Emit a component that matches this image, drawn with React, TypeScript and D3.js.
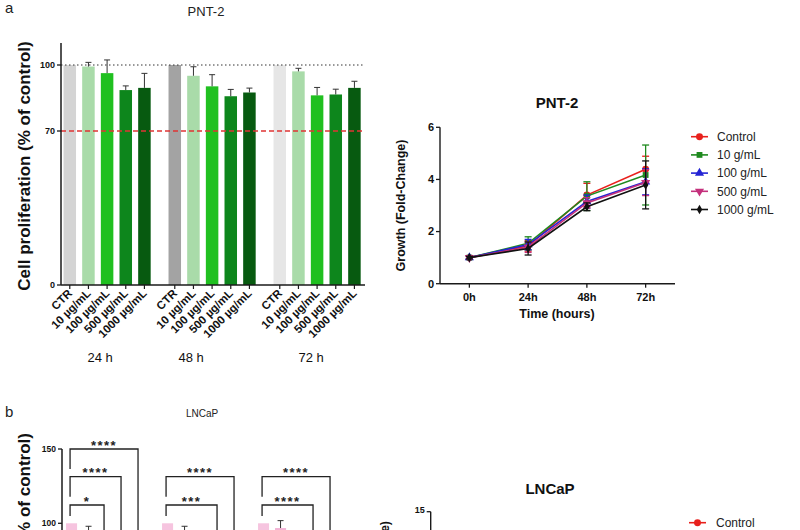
import React from 'react';
import * as d3 from 'd3';

const FONT = '"Liberation Sans", Arial, Helvetica, sans-serif';

// ---------- Panel a: PNT-2 bar chart ----------
const timeGroups = ['24 h', '48 h', '72 h'];
const conditions = ['CTR', '10 µg/mL', '100 µg/mL', '500 µg/mL', '1000 µg/mL'];
const pnt2Means = [
  [100, 99.3, 96.3, 88.6, 89.6],
  [100, 95.1, 90.3, 85.8, 87.5],
  [100, 97.1, 86.2, 86.6, 89.6],
];
const pnt2Errs = [
  [0, 1.9, 6.0, 1.9, 6.6],
  [0, 4.1, 5.3, 3.1, 2.0],
  [0, 1.4, 3.6, 2.4, 3.0],
];
const pnt2YTicks = [0, 70, 100];

// ---------- Panel a: PNT-2 growth curves ----------
const timePoints = ['0h', '24h', '48h', '72h'];
const seriesNames = ['Control', '10 g/mL', '100 g/mL', '500 g/mL', '1000 g/mL'];
const growthMeans = [
  [1.0, 1.45, 3.4, 4.39],
  [1.0, 1.55, 3.36, 4.17],
  [1.0, 1.5, 3.15, 3.91],
  [1.0, 1.4, 3.1, 3.88],
  [1.0, 1.35, 2.95, 3.79],
];
const growthErrs = [
  [0.06, 0.2, 0.45, 0.5],
  [0.05, 0.25, 0.55, 1.15],
  [0.05, 0.2, 0.25, 0.5],
  [0.05, 0.2, 0.2, 0.5],
  [0.05, 0.25, 0.15, 0.92],
];
const growthYTicks = [0, 2, 4, 6];

// ---------- Panel b: LNCaP bar chart ----------
const lncapMeans = [
  [100, 95.5, 84, 62, 55],
  [100, 95, 88, 72, 64],
  [100, 96.8, 88, 70, 60],
];
const lncapErrs = [
  [0, 2.5, 3, 3, 3],
  [0, 3, 3, 3, 3],
  [0, 5, 3, 3, 3],
];
const lncapYTicks = [0, 50, 100, 150];
const lncapBrackets = [
  { group: 0, target: 2, height: 112.3, label: '*' },
  { group: 0, target: 3, height: 131.4, label: '****' },
  { group: 0, target: 4, height: 150, label: '****' },
  { group: 1, target: 3, height: 112.3, label: '***' },
  { group: 1, target: 4, height: 131.4, label: '****' },
  { group: 2, target: 3, height: 112.3, label: '****' },
  { group: 2, target: 4, height: 131.4, label: '****' },
];
const lncapGrowthYTicks = [0, 5, 10, 15];

// ---------- styles ----------
const ctrColors = ['#d4d4d4', '#a3a3a3', '#e6e6e6'];
const greenColors = ['#a9dba9', '#20c020', '#0d861c', '#075a10'];
const pinkColors = ['#f6c4df', '#f2b2d4', '#e070b0', '#c03486', '#8a1a5c'];
const seriesColors = ['#e8201c', '#1f8a1f', '#2424d4', '#c4307c', '#111111'];
const seriesSymbols = [d3.symbolCircle, d3.symbolSquare, d3.symbolTriangle, d3.symbolTriangle, d3.symbolDiamond];
const seriesSymbolSize = [38, 34, 36, 36, 26];
const seriesRotate = [0, 0, 0, 180, 0];

const AX = '#1a1a1a';
const VIEW_H = 530;

function Marker({ i, x, y }: { i: number; x: number; y: number }) {
  const p = d3.symbol().type(seriesSymbols[i]).size(seriesSymbolSize[i])() || '';
  return (
    <path
      d={p}
      transform={`translate(${x},${y}) rotate(${seriesRotate[i]})`}
      fill={seriesColors[i]}
      stroke="none"
    />
  );
}

export default function App() {
  // ---- panel a bars ----
  const ax0 = d3.scaleBand<string>().domain(timeGroups).range([54.6, 369.6]).paddingInner(0.17).paddingOuter(0.085);
  const ax1 = d3.scaleBand<string>().domain(conditions).range([0, ax0.bandwidth()]).paddingInner(0.33);
  const ay = d3.scaleLinear().domain([0, 110]).range([285, 43]);
  const aAxisX = 61;
  const aRight = 365;
  const groupLabelDx = [-7, -21, -6];

  // ---- panel a lines ----
  const lx = d3.scalePoint<string>().domain(timePoints).range([440, 675]).padding(0.5);
  const ly = d3.scaleLinear().domain([0, 6]).range([283.7, 127.3]);
  const line = d3
    .line<number>()
    .x((_, j) => lx(timePoints[j]) as number)
    .y((v) => ly(v));

  // ---- panel b bars ----
  const bx0 = d3.scaleBand<string>().domain(timeGroups).range([62.2, 340.9]).paddingInner(0.177).paddingOuter(0.04);
  const bx1 = d3.scaleBand<string>().domain(conditions).range([0, bx0.bandwidth()]).paddingInner(0.35);
  const by = d3.scaleLinear().domain([0, 150]).range([671.9, 449]);
  const bAxisX = 62;

  // ---- panel b lines ----
  const lby = d3.scaleLinear().domain([0, 15]).range([668, 511.7]);
  const lbAxisX = 430.7;

  const legendRowsA = seriesNames.map((n, i) => ({ n, i, y: 136.7 + i * 18.2 }));
  // only the rows that fall inside the (cropped) figure
  const legendRowsB = seriesNames
    .map((n, i) => ({ n, i, y: 522.7 + i * 18.2 }))
    .filter((r) => r.y < VIEW_H);

  return (
    <svg
      width={800}
      height={530}
      viewBox="0 0 800 530"
      style={{ position: 'absolute', left: 0, top: 0, background: '#fff', fontFamily: FONT }}
    >
      <rect x={0} y={0} width={800} height={530} fill="#fff" />
      {/* ======== Panel a ======== */}
      <text x={5} y={13} fontSize={15} fill="#222">a</text>
      <text x={206} y={15.7} fontSize={13} fill="#222" textAnchor="middle">PNT-2</text>

      {/* bars */}
      {timeGroups.map((g, gi) =>
        conditions.map((c, ci) => {
          const v = pnt2Means[gi][ci];
          const x = (ax0(g) as number) + (ax1(c) as number);
          const w = ax1.bandwidth();
          const fill = ci === 0 ? ctrColors[gi] : greenColors[ci - 1];
          return <rect key={`ab${gi}${ci}`} x={x} y={ay(v)} width={w} height={ay(0) - ay(v)} fill={fill} />;
        })
      )}
      {/* error bars */}
      {timeGroups.map((g, gi) =>
        conditions.map((c, ci) => {
          const e = pnt2Errs[gi][ci];
          if (!e) return null;
          const v = pnt2Means[gi][ci];
          const cx = (ax0(g) as number) + (ax1(c) as number) + ax1.bandwidth() / 2;
          return (
            <g key={`ae${gi}${ci}`} stroke="#333" strokeWidth={1}>
              <line x1={cx} x2={cx} y1={ay(v)} y2={ay(v + e)} />
              <line x1={cx - 3} x2={cx + 3} y1={ay(v + e)} y2={ay(v + e)} />
            </g>
          );
        })
      )}
      {/* reference lines */}
      <line x1={aAxisX} x2={aRight} y1={ay(100)} y2={ay(100)} stroke="#333" strokeWidth={1} strokeDasharray="1.5,2.5" />
      <line x1={aAxisX} x2={aRight} y1={ay(70)} y2={ay(70)} stroke="#e03434" strokeWidth={1.3} strokeDasharray="5,3" />
      {/* axes */}
      <line x1={aAxisX} x2={aAxisX} y1={ay(110)} y2={ay(0)} stroke={AX} strokeWidth={1.5} />
      <line x1={aAxisX} x2={aRight} y1={ay(0)} y2={ay(0)} stroke={AX} strokeWidth={1.5} />
      {pnt2YTicks.map((t) => (
        <g key={`ayt${t}`}>
          <line x1={aAxisX - 4} x2={aAxisX} y1={ay(t)} y2={ay(t)} stroke={AX} strokeWidth={1.3} />
          <text x={aAxisX - 6} y={ay(t)} dy="0.35em" fontSize={9} fontWeight="bold" textAnchor="end" fill="#111">
            {t}
          </text>
        </g>
      ))}
      {timeGroups.map((g, gi) =>
        conditions.map((c, ci) => {
          const cx = (ax0(g) as number) + (ax1(c) as number) + ax1.bandwidth() / 2;
          return (
            <g key={`axt${gi}${ci}`}>
              <line x1={cx} x2={cx} y1={ay(0)} y2={ay(0) + 4} stroke={AX} strokeWidth={1.2} />
              <text
                transform={`translate(${cx + 3},${ay(0) + 9}) rotate(-45)`}
                fontSize={11.5}
                fontWeight="bold"
                textAnchor="end"
                fill="#111"
              >
                {c}
              </text>
            </g>
          );
        })
      )}
      {timeGroups.map((g, gi) => (
        <text
          key={`agl${gi}`}
          x={(ax0(g) as number) + ax0.bandwidth() / 2 + groupLabelDx[gi]}
          y={361.5}
          fontSize={13}
          textAnchor="middle"
          fill="#111"
        >
          {g}
        </text>
      ))}
      <text
        transform={`translate(29.5,166) rotate(-90)`}
        fontSize={17}
        fontWeight="bold"
        textAnchor="middle"
        fill="#111"
      >
        Cell proliferation (% of control)
      </text>

      {/* ---- growth chart PNT-2 ---- */}
      <text x={557} y={108.4} fontSize={15} fontWeight="bold" textAnchor="middle" fill="#111">PNT-2</text>
      {growthMeans.map((s, i) => (
        <g key={`gs${i}`}>
          <path d={line(s) || ''} fill="none" stroke={seriesColors[i]} strokeWidth={1.6} />
          {s.map((v, j) => {
            const cx = lx(timePoints[j]) as number;
            const e = growthErrs[i][j];
            return (
              <g key={`ge${i}${j}`} stroke={seriesColors[i]} strokeWidth={1.3}>
                <line x1={cx} x2={cx} y1={ly(v - e)} y2={ly(v + e)} />
                <line x1={cx - 3.5} x2={cx + 3.5} y1={ly(v + e)} y2={ly(v + e)} />
                <line x1={cx - 3.5} x2={cx + 3.5} y1={ly(v - e)} y2={ly(v - e)} />
              </g>
            );
          })}
          {s.map((v, j) => (
            <Marker key={`gm${i}${j}`} i={i} x={lx(timePoints[j]) as number} y={ly(v)} />
          ))}
        </g>
      ))}
      <line x1={440} x2={440} y1={ly(6)} y2={ly(0)} stroke={AX} strokeWidth={1.4} />
      <line x1={440} x2={675} y1={ly(0)} y2={ly(0)} stroke={AX} strokeWidth={1.4} />
      {growthYTicks.map((t) => (
        <g key={`gyt${t}`}>
          <line x1={436} x2={440} y1={ly(t)} y2={ly(t)} stroke={AX} strokeWidth={1.3} />
          <text x={434} y={ly(t)} dy="0.35em" fontSize={11} fontWeight="bold" textAnchor="end" fill="#111">
            {t}
          </text>
        </g>
      ))}
      {timePoints.map((t) => (
        <g key={`gxt${t}`}>
          <line x1={lx(t) as number} x2={lx(t) as number} y1={ly(0)} y2={ly(0) + 4} stroke={AX} strokeWidth={1.3} />
          <text x={lx(t) as number} y={300.7} fontSize={11} fontWeight="bold" textAnchor="middle" fill="#111">
            {t}
          </text>
        </g>
      ))}
      <text x={557} y={317.5} fontSize={12.5} fontWeight="bold" textAnchor="middle" fill="#111">Time (hours)</text>
      <text transform="translate(404.5,205.5) rotate(-90)" fontSize={12.5} fontWeight="bold" textAnchor="middle" fill="#111">
        Growth (Fold-Change)
      </text>
      {legendRowsA.map(({ n, i, y }) => (
        <g key={`la${i}`}>
          <line x1={691} x2={708} y1={y} y2={y} stroke={seriesColors[i]} strokeWidth={1.6} />
          <Marker i={i} x={699.5} y={y} />
          <text x={717} y={y} dy="0.35em" fontSize={12} fill="#222">{n}</text>
        </g>
      ))}

      {/* ======== Panel b ======== */}
      <text x={5} y={417} fontSize={15} fill="#222">b</text>
      <text x={202} y={416.6} fontSize={10} fill="#222" textAnchor="middle">LNCaP</text>
      {timeGroups.map((g, gi) =>
        conditions.map((c, ci) => {
          const v = lncapMeans[gi][ci];
          const x = (bx0(g) as number) + (bx1(c) as number);
          return (
            <rect key={`bb${gi}${ci}`} x={x} y={by(v)} width={bx1.bandwidth()} height={by(0) - by(v)} fill={pinkColors[ci]} />
          );
        })
      )}
      {timeGroups.map((g, gi) =>
        conditions.map((c, ci) => {
          const e = lncapErrs[gi][ci];
          if (!e) return null;
          const v = lncapMeans[gi][ci];
          const cx = (bx0(g) as number) + (bx1(c) as number) + bx1.bandwidth() / 2;
          return (
            <g key={`be${gi}${ci}`} stroke="#333" strokeWidth={1}>
              <line x1={cx} x2={cx} y1={by(v)} y2={by(v + e)} />
              <line x1={cx - 3} x2={cx + 3} y1={by(v + e)} y2={by(v + e)} />
            </g>
          );
        })
      )}
      {lncapBrackets.map((b, k) => {
        const g = timeGroups[b.group];
        const x1 = (bx0(g) as number) + (bx1(conditions[0]) as number) + bx1.bandwidth() / 2 - 1.5;
        const x2 = (bx0(g) as number) + (bx1(conditions[b.target]) as number) + bx1.bandwidth() / 2 - 1.5;
        const yTop = by(b.height);
        const leftBottom = b.height > 120 ? yTop + 20 : yTop + 11;
        const rightBottom = by(lncapMeans[b.group][b.target] + lncapErrs[b.group][b.target] + 4);
        return (
          <g key={`br${k}`}>
            <path
              d={`M${x1},${leftBottom}V${yTop}H${x2}V${rightBottom}`}
              fill="none"
              stroke="#222"
              strokeWidth={1.3}
            />
            <text
              x={(x1 + x2) / 2}
              y={yTop + 0.5}
              fontSize={13}
              fontWeight="bold"
              letterSpacing={1.5}
              textAnchor="middle"
              fill="#222"
            >
              {b.label}
            </text>
          </g>
        );
      })}
      <line x1={bAxisX} x2={bAxisX} y1={by(150)} y2={by(0)} stroke={AX} strokeWidth={1.5} />
      {lncapYTicks
        .filter((t) => by(t) < VIEW_H)
        .map((t) => (
          <g key={`byt${t}`}>
            <line x1={bAxisX - 4} x2={bAxisX} y1={by(t)} y2={by(t)} stroke={AX} strokeWidth={1.3} />
            <text x={bAxisX - 6} y={by(t)} dy="0.35em" fontSize={8.5} fontWeight="bold" textAnchor="end" fill="#111">
              {t}
            </text>
          </g>
        ))}
      <text transform="translate(29.5,433) rotate(-90)" fontSize={17} fontWeight="bold" textAnchor="end" fill="#111">
        Cell proliferation (% of control)
      </text>

      {/* ---- growth chart LNCaP ---- */}
      <text x={550} y={493.7} fontSize={15} fontWeight="bold" textAnchor="middle" fill="#111">LNCaP</text>
      <line x1={lbAxisX} x2={lbAxisX} y1={lby(15)} y2={lby(0)} stroke={AX} strokeWidth={1.4} />
      {lncapGrowthYTicks
        .filter((t) => lby(t) < VIEW_H)
        .map((t) => (
          <g key={`lbt${t}`}>
            <line x1={lbAxisX - 4} x2={lbAxisX} y1={lby(t)} y2={lby(t)} stroke={AX} strokeWidth={1.3} />
            <text x={lbAxisX - 6} y={lby(t) - 2} dy="0.35em" fontSize={9} fontWeight="bold" textAnchor="end" fill="#111">
              {t}
            </text>
          </g>
        ))}
      <text transform="translate(389,521) rotate(-90)" fontSize={12.5} fontWeight="bold" textAnchor="end" fill="#111">
        Growth (Fold-Change)
      </text>
      {legendRowsB.map(({ n, i, y }) => (
        <g key={`lb${i}`}>
          <line x1={689} x2={706} y1={y} y2={y} stroke={seriesColors[i]} strokeWidth={1.6} />
          <Marker i={i} x={697.5} y={y} />
          <text x={716} y={y} dy="0.35em" fontSize={12} fill="#222">{n}</text>
        </g>
      ))}
    </svg>
  );
}
